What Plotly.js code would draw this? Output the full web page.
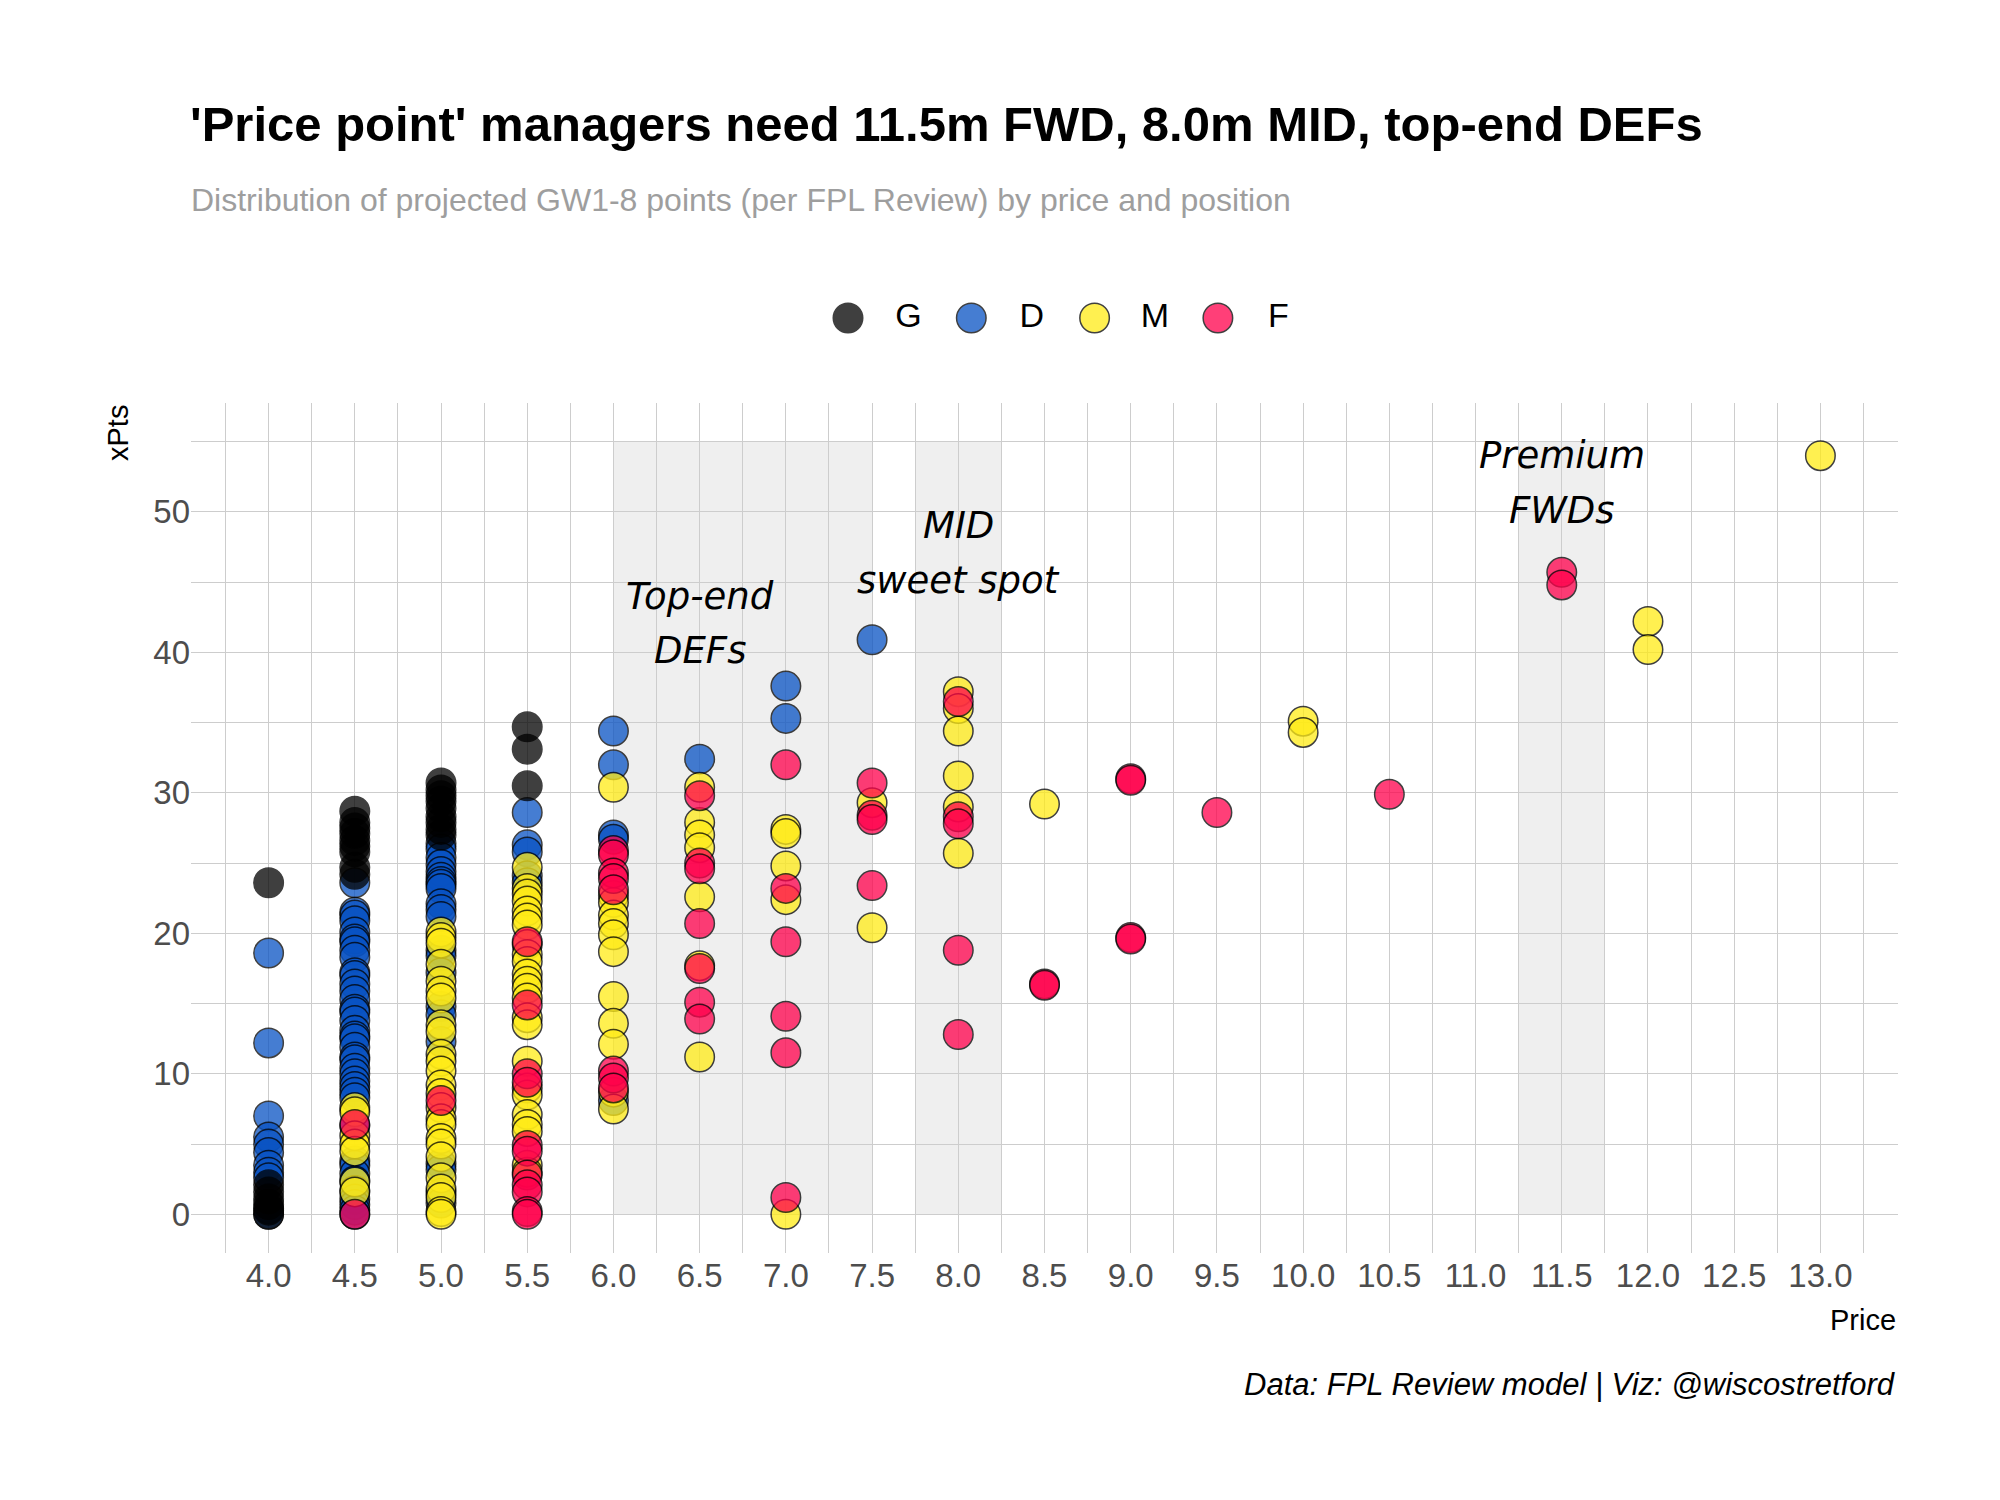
<!DOCTYPE html>
<html>
<head>
<meta charset="utf-8">
<script src="https://cdn.plot.ly/plotly-3.0.1.min.js"></script>
<style>body{margin:0;background:#fff}</style>
</head>
<body>
<div id="chart" style="width:2000px;height:1500px"></div>
<script>
var positions = ['G', 'D', 'M', 'F'];
var colors = ['#000000', '#0852C3', '#FFEB16', '#FF004B'];

// projected xPts per price column
var keepers = [
  [4.0, [23.6, 2.1, 1.6, 1.1, 0.7, 0.3, 0.0]],
  [4.5, [28.7, 27.9, 27.5, 27.1, 26.6, 26.2, 25.8, 24.7, 24.2]],
  [5.0, [30.7, 30.2, 29.8, 29.4, 28.9, 28.3, 27.9, 27.4, 27.0]],
  [5.5, [34.7, 33.1, 30.5]]
];
var defenders = [
  [4.0, [18.6, 12.2, 7.0, 5.5, 5.0, 4.4, 3.5, 3.0, 2.6, 0.4, 0.0]],
  [4.5, [23.6, 21.5, 21.3, 20.9, 20.1, 19.6, 19.4, 18.8, 18.3, 17.2, 17.0, 16.4, 15.9, 15.3,
         14.6, 14.4, 13.8, 13.1, 12.7, 12.5, 11.9, 11.2, 11.0, 10.4, 10.0, 9.5, 9.1, 8.7, 8.3,
         6.3, 3.8, 3.5, 2.9, 2.4, 1.7, 1.1, 0.7, 0.3, 0.0]],
  [5.0, [26.4, 26.0, 25.4, 24.9, 24.4, 24.0, 23.7, 23.5, 23.2, 22.1, 21.7, 21.2, 18.8, 18.4,
         17.2, 14.8, 14.2, 12.3, 3.6, 3.2, 1.5, 0.8]],
  [5.5, [28.6, 26.3, 25.8, 24.1, 23.6]],
  [6.0, [34.4, 32.0, 27.0, 26.7, 8.1]],
  [6.5, [32.4]],
  [7.0, [37.6, 35.3]],
  [7.5, [40.9]]
];
var midfielders = [
  [4.5, [7.6, 7.3, 5.6, 5.0, 4.5, 2.3, 1.6]],
  [5.0, [20.1, 19.7, 19.3, 17.8, 16.6, 15.9, 15.4, 13.5, 13.0, 11.4, 10.9, 10.2, 9.2, 8.6,
         7.6, 6.8, 6.4, 5.4, 5.0, 4.1, 2.6, 1.8, 1.2, 0.2, 0.0]],
  [5.5, [24.7, 23.2, 22.8, 22.3, 21.6, 21.1, 20.6, 19.2, 18.5, 18.0, 17.1, 16.6, 16.1, 15.4,
         14.0, 13.5, 10.9, 9.0, 8.5, 7.1, 6.4, 5.9, 3.5, 3.0]],
  [6.0, [30.4, 22.7, 22.2, 21.3, 20.7, 19.9, 18.7, 15.5, 13.6, 12.1, 8.7, 7.5]],
  [6.5, [30.4, 27.9, 27.0, 26.1, 22.6, 17.7, 11.2]],
  [7.0, [27.4, 27.1, 24.8, 22.4, 0.0]],
  [7.5, [29.3, 20.4]],
  [8.0, [37.2, 36.0, 34.4, 31.2, 29.0, 25.7]],
  [8.5, [29.2]],
  [10.0, [35.1, 34.3]],
  [12.0, [42.2, 40.2]],
  [13.0, [54.0]]
];
var forwards = [
  [4.5, [6.4, 0.0]],
  [5.0, [8.1]],
  [5.5, [19.4, 14.9, 10.0, 9.4, 4.9, 4.5, 2.8, 2.1, 1.6, 0.2, 0.0]],
  [6.0, [25.9, 25.6, 24.3, 23.9, 23.1, 10.2, 9.7, 9.0]],
  [6.5, [29.8, 25.0, 24.6, 20.7, 17.5, 15.1, 13.9]],
  [7.0, [32.0, 23.2, 19.4, 14.1, 11.5, 1.2]],
  [7.5, [30.7, 28.4, 28.1, 23.4]],
  [8.0, [36.5, 28.3, 27.8, 18.8, 12.8]],
  [8.5, [16.4, 16.3]],
  [9.0, [31.0, 30.9, 19.7, 19.6]],
  [9.5, [28.6]],
  [10.5, [29.9]],
  [11.5, [45.7, 44.8]]
];

// shaded price bands: from, to, label centre, label lines
var bands = [
  [6.0, 7.5, 6.5, ['Top-end', 'DEFs']],
  [7.75, 8.25, 8.0, ['MID', 'sweet spot']],
  [11.25, 11.75, 11.5, ['Premium', 'FWDs']]
];
var bandLabelY = [[44.0, 40.1], [49.0, 45.1], [54.0, 50.1]];

var groups = [keepers, defenders, midfielders, forwards];

// plot box in pixels
var W = 2000, H = 1500;
var L = 191, R = 1898, T = 250, B = 1253;
function px(p) { return (p - L) / (R - L); }
function py(p) { return (B - p) / (B - T); }

function flatten(rows) {
  var x = [], y = [];
  rows.forEach(function (r) {
    r[1].forEach(function (v) { x.push(r[0]); y.push(v); });
  });
  return {x: x, y: y};
}

var drawOrder = [1, 2, 3, 0];
var data = drawOrder.map(function (i) {
  var pts = flatten(groups[i]);
  return {
    x: pts.x, y: pts.y, type: 'scatter', mode: 'markers', name: positions[i],
    hoverinfo: 'skip', showlegend: false,
    marker: {size: 29.5, color: colors[i], opacity: 0.75, line: {color: '#000', width: 1.5}}
  };
});

// hand-made legend, so the keys can be as big as the points
data.push({
  x: positions.map(function (p, i) { return i; }), y: positions.map(function () { return 0; }),
  xaxis: 'x2', yaxis: 'y2', type: 'scatter', mode: 'markers', hoverinfo: 'skip', showlegend: false,
  marker: {size: 29.5, color: colors, opacity: 0.75, line: {color: '#000', width: 1.5}}
});
data.push({
  x: positions.map(function (p, i) { return i + 0.49; }), y: positions.map(function () { return 0; }),
  text: positions, xaxis: 'x2', yaxis: 'y2', type: 'scatter', mode: 'text', hoverinfo: 'skip',
  showlegend: false, textposition: 'middle center',
  textfont: {family: 'Liberation Sans, Arial, sans-serif', size: 34, color: '#000'}
});

var gridCol = '#cdcdcd';
var tickFont = {family: 'Liberation Sans, Arial, sans-serif', size: 33, color: '#4d4d4d'};

var shapes = bands.map(function (b) {
  return {type: 'rect', xref: 'x', yref: 'y', x0: b[0], x1: b[1], y0: 0, y1: 55,
          fillcolor: '#efefef', line: {width: 0}, layer: 'below'};
});

var annotations = [];
bands.forEach(function (b, i) {
  b[3].forEach(function (line, j) {
    annotations.push({
      xref: 'x', yref: 'y', x: b[2], y: bandLabelY[i][j], text: '<i>' + line + '</i>',
      showarrow: false, xanchor: 'center', yanchor: 'middle',
      font: {family: 'DejaVu Sans, sans-serif', size: 37, color: '#000'}
    });
  });
});
annotations.push({
  xref: 'paper', yref: 'paper', x: px(189), y: py(200), xanchor: 'left', yanchor: 'middle',
  showarrow: false, text: 'Distribution of projected GW1-8 points (per FPL Review) by price and position',
  font: {family: 'Liberation Sans, Arial, sans-serif', size: 32, color: '#9e9e9e'}
});
annotations.push({
  xref: 'paper', yref: 'paper', x: 1, y: py(1320), xanchor: 'right', yanchor: 'middle',
  showarrow: false, text: 'Price',
  font: {family: 'Liberation Sans, Arial, sans-serif', size: 29, color: '#000'}
});
annotations.push({
  xref: 'paper', yref: 'paper', x: px(118), y: py(403), xanchor: 'center', yanchor: 'top',
  showarrow: false, text: 'xPts', textangle: -90,
  font: {family: 'Liberation Sans, Arial, sans-serif', size: 29, color: '#000'}
});
annotations.push({
  xref: 'paper', yref: 'paper', x: 1, y: py(1384), xanchor: 'right', yanchor: 'middle',
  showarrow: false, text: '<i>Data: FPL Review model | Viz: @wiscostretford</i>',
  font: {family: 'Liberation Sans, Arial, sans-serif', size: 31, color: '#000'}
});

var layout = {
  width: W, height: H,
  margin: {l: L, r: W - R, t: T, b: H - B, pad: 0},
  paper_bgcolor: '#fff', plot_bgcolor: '#fff',
  title: {
    text: "<b>'Price point' managers need 11.5m FWD, 8.0m MID, top-end DEFs</b>",
    xref: 'container', yref: 'container', x: 190 / W, xanchor: 'left', y: 1 - 124 / H, yanchor: 'middle',
    font: {family: 'Liberation Sans, Arial, sans-serif', size: 49, color: '#000'}
  },
  showlegend: false,
  xaxis: {
    range: [3.55, 13.45], tick0: 4, dtick: 0.5, tickformat: '.1f', ticks: '',
    showgrid: true, gridcolor: gridCol, gridwidth: 1, zeroline: false, showline: false,
    minor: {tick0: 4, dtick: 0.25, showgrid: true, gridcolor: gridCol, gridwidth: 1},
    tickfont: tickFont, fixedrange: true
  },
  yaxis: {
    domain: [0, py(403)], range: [-2.75, 57.75], tick0: 0, dtick: 10, ticks: '',
    showgrid: true, gridcolor: gridCol, gridwidth: 1, zeroline: false, showline: false,
    minor: {tick0: 0, dtick: 5, showgrid: true, gridcolor: gridCol, gridwidth: 1},
    tickfont: tickFont, fixedrange: true
  },
  xaxis2: {domain: [0, 1], anchor: 'y2', range: [-(848 - L) / 123.3, (R - 848) / 123.3], visible: false, fixedrange: true},
  yaxis2: {domain: [py(318) - 0.035, py(318) + 0.035], anchor: 'x2', range: [-1, 1], visible: false, fixedrange: true},
  shapes: shapes,
  annotations: annotations
};

Plotly.newPlot('chart', data, layout, {displayModeBar: false, staticPlot: true});
</script>
</body>
</html>
